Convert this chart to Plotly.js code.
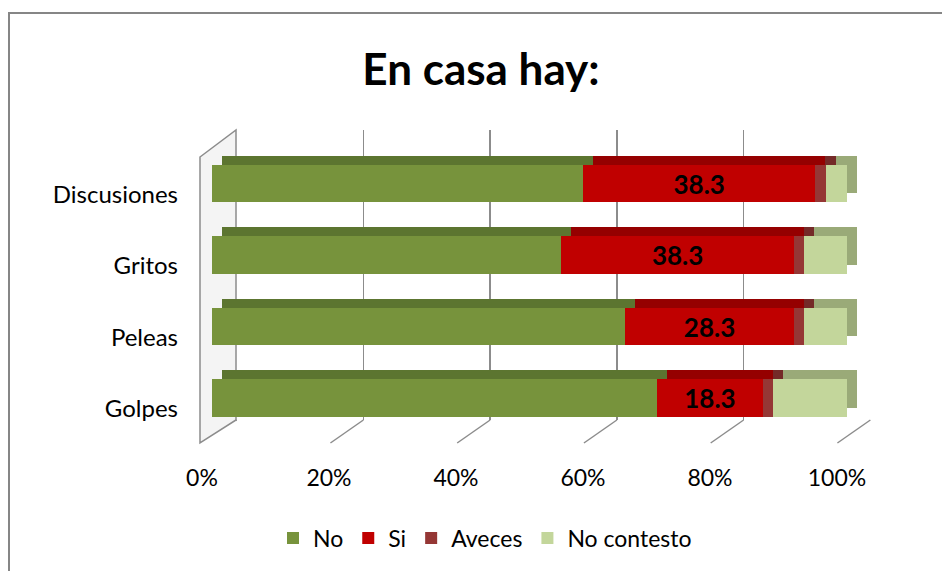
<!DOCTYPE html>
<html>
<head>
<meta charset="utf-8">
<script src="https://cdn.plot.ly/plotly-3.0.1.min.js"></script>
<style>html,body{margin:0;padding:0;background:#fff;}#chart{width:942px;height:571px;}</style>
</head>
<body>
<div id="chart"></div>
<script>
// ---- data ----
const categories = ['Discusiones', 'Gritos', 'Peleas', 'Golpes'];
const seriesNames = ['No', 'Si', 'Aveces', 'No contesto'];
const valNo = [61.1, 57.4, 68.9, 76.8];
const valSi = [38.3, 38.3, 28.3, 18.3];
const valAveces = [1.7, 1.7, 1.7, 1.7];
const valNoContesto = [3.5, 7.0, 7.1, 12.8];
const tickVals = [0, 20, 40, 60, 80, 100];
const tickText = ['0%', '20%', '40%', '60%', '80%', '100%'];

// ---- styling ----
const FONT = 'Lato, "Liberation Sans", sans-serif';
const frontColors = ['#77933C', '#C00000', '#953735', '#C3D69B'];
const backColors = ['#5C7530', '#950000', '#742A28', '#9AAA78'];

const W = 942, H = 571, ML = 190, MR = 50, MT = 120, MB = 121;
const PW = W - ML - MR, PH = H - MT - MB;
const fx = p => (p - ML) / PW;
const fy = p => (H - MB - p) / PH;

const seriesVals = [valNo, valSi, valAveces, valNoContesto];

const traces = [];
// invisible trace to create grid subplot
traces.push({type: 'scatter', x: [null], y: [null], xaxis: 'x', yaxis: 'y', showlegend: false, hoverinfo: 'skip'});

// back (depth) copies
seriesVals.forEach((vals, i) => {
  traces.push({
    type: 'bar', orientation: 'h', x: vals, y: categories,
    xaxis: 'x2', yaxis: 'y2', showlegend: false, hoverinfo: 'skip',
    marker: {color: backColors[i], line: {width: 0}}, width: 0.53
  });
});
// front faces
seriesVals.forEach((vals, i) => {
  const t = {
    type: 'bar', orientation: 'h', x: vals, y: categories, name: seriesNames[i],
    xaxis: 'x3', yaxis: 'y3', hoverinfo: 'skip',
    marker: {color: frontColors[i], line: {width: 0}}, width: 0.53
  };
  if (i === 1) {
    t.text = vals.map(v => v.toFixed(1));
    t.textposition = 'inside';
    t.insidetextanchor = 'middle';
    t.constraintext = 'none';
    t.textangle = 0;
    t.textfont = {family: FONT, size: 26, color: '#000000', weight: 'bold'};
  }
  traces.push(t);
});

const shapes = [];
// outer border
shapes.push({type: 'rect', xref: 'paper', yref: 'paper', x0: fx(9), x1: fx(965), y0: fy(595), y1: fy(13),
  line: {color: '#868686', width: 2}, fillcolor: 'rgba(0,0,0,0)', layer: 'below'});
// floor lines
tickVals.forEach(v => {
  shapes.push({type: 'line', xref: 'x', yref: 'paper', x0: v, x1: v - 5.2, y0: fy(420), y1: fy(443),
    line: {color: '#8C8C8C', width: 1.5}, layer: 'below'});
});
// left side wall
const wall = [[200, 157], [236, 130], [236, 420], [200, 443]];
shapes.push({type: 'path', xref: 'paper', yref: 'paper',
  path: 'M' + wall.map(p => fx(p[0]).toFixed(5) + ',' + fy(p[1]).toFixed(5)).join(' L') + ' Z',
  fillcolor: '#F4F4F4', line: {color: '#8C8C8C', width: 1.5}, layer: 'below'});

const layout = {
  width: W, height: H,
  margin: {l: ML, r: MR, t: MT, b: MB},
  paper_bgcolor: '#FFFFFF', plot_bgcolor: 'rgba(0,0,0,0)',
  font: {family: FONT, color: '#000000', size: 23},
  title: {text: '<b>En casa hay:</b>', font: {family: FONT, size: 44, color: '#000000'},
    x: 481 / W, xanchor: 'center', y: 1 - 70 / H, yanchor: 'middle', xref: 'container', yref: 'container'},
  barmode: 'stack', barnorm: 'percent',
  showlegend: true,
  legend: {orientation: 'h', x: fx(485), xanchor: 'center', y: fy(538), yanchor: 'middle',
    font: {family: FONT, size: 23, color: '#000000'}, traceorder: 'normal', itemwidth: 30},
  // grid subplot
  xaxis: {domain: [fx(236), fx(871)], range: [-0.1, 100.1], anchor: 'y', tickvals: tickVals,
    showgrid: true, gridcolor: '#8C8C8C', gridwidth: 1.5, showticklabels: false, zeroline: false, showline: false, ticks: ''},
  yaxis: {domain: [fy(420), fy(130)], range: [0, 1], anchor: 'x', showgrid: false, showticklabels: false, zeroline: false, showline: false, ticks: ''},
  // back copies
  xaxis2: {domain: [fx(222), fx(857)], range: [0, 100], anchor: 'y2', showgrid: false, showticklabels: false, zeroline: false, showline: false, ticks: ''},
  yaxis2: {domain: [fy(424.75), fy(138.75)], type: 'category', range: [3.5, -0.5], anchor: 'x2', showgrid: false, showticklabels: false, zeroline: false, showline: false, ticks: ''},
  // front faces
  xaxis3: {domain: [fx(212), fx(847)], range: [0, 100], anchor: 'y3', tickvals: tickVals, ticktext: tickText,
    showgrid: false, zeroline: false, showline: false, ticks: '', ticklabelshift: -10, ticklabelstandoff: 28,
    tickfont: {family: FONT, size: 23, color: '#000000'}},
  yaxis3: {domain: [fy(433.75), fy(147.75)], type: 'category', range: [3.5, -0.5], anchor: 'x3',
    showgrid: false, zeroline: false, showline: false, ticks: '', ticklabelshift: -11, ticklabelstandoff: 33,
    tickfont: {family: FONT, size: 24, color: '#000000'}},
  shapes: shapes
};

Plotly.newPlot('chart', traces, layout, {displayModeBar: false, staticPlot: true});
</script>
</body>
</html>
